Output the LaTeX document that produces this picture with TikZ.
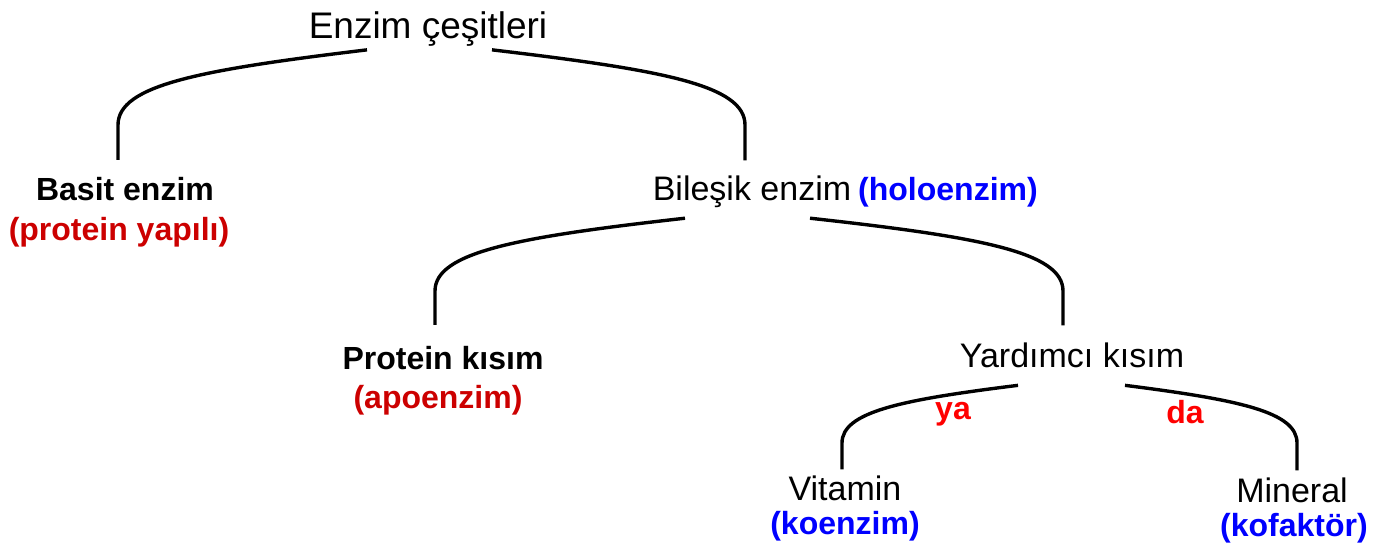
\documentclass[tikz,border=0pt]{standalone}
\usepackage{fontspec}
\setmainfont{Liberation Sans}
\usepackage{xcolor}
\usetikzlibrary{positioning}
\definecolor{apored}{RGB}{204,0,0}
\definecolor{yared}{RGB}{255,0,0}
\definecolor{koblue}{RGB}{0,0,255}

\begin{document}
\begin{tikzpicture}[
    x=1pt, y=-1pt,
    every node/.style={inner sep=0pt, outer sep=0pt},
    title/.style={font=\fontsize{37}{44}\selectfont, anchor=base},
    plain/.style={font=\fontsize{34}{40}\selectfont, anchor=base},
    strong/.style={font=\fontsize{32}{38}\selectfont\bfseries, anchor=base},
    note/.style={font=\fontsize{32}{38}\selectfont\bfseries, text=#1, anchor=base},
    note/.default=apored,
    branch/.style={line width=3.4pt},
]
\useasboundingbox (0,0) rectangle (1379,549);

% --- Levels ---
\node[title] (root) at (428,38) {Enzim çeşitleri};

\node[strong] (basit) at (125,200) {Basit enzim};
\node[note] (basitnote) at (119,240) {(protein yapılı)};
\node[plain] (bilesik) at (752,200) {Bileşik enzim};
\node[note=koblue, base right=7pt of bilesik] (holo) {(holoenzim)};

\node[strong] (protein) at (443,369) {Protein kısım};
\node[note] (apo) at (438,408) {(apoenzim)};
\node[plain] (yardimci) at (1072,367) {Yardımcı kısım};

\node[note=yared] (ya) at (953,419) {ya};
\node[note=yared] (da) at (1185,423) {da};
\node[plain] (vitamin) at (845,500) {Vitamin};
\node[note=koblue] (koenzim) at (845,534) {(koenzim)};
\node[plain] (mineral) at (1292,502) {Mineral};
\node[note=koblue] (kofaktor) at (1294,536) {(kofaktör)};

% --- Branches ---
\draw[branch] ([xshift=-61pt,yshift=-4pt]root.south) .. controls (200,70) and (118,85) .. (118,125) -- ([xshift=-7pt,yshift=17pt]basit.north);
\draw[branch] ([xshift=64pt,yshift=-4pt]root.south) .. controls (662,70) and (745,85) .. (745,125) -- ([xshift=-7pt,yshift=15pt]bilesik.north);
\draw[branch] ([xshift=-67pt,yshift=-11pt]bilesik.south) .. controls (518,237) and (435,252) .. (435,291) -- ([xshift=-8pt,yshift=21pt]protein.north);
\draw[branch] ([xshift=58pt,yshift=-11pt]bilesik.south) .. controls (980,237) and (1063,252) .. (1063,291) -- ([xshift=-9pt,yshift=17pt]yardimci.north);
\draw[branch] ([xshift=-54pt,yshift=-18pt]yardimci.south) .. controls (900,400) and (842,412) .. (842,443) -- ([xshift=-3pt,yshift=6pt]vitamin.north);
\draw[branch] ([xshift=53pt,yshift=-18pt]yardimci.south) .. controls (1240,400) and (1297,412) .. (1297,443) -- ([xshift=5pt,yshift=7pt]mineral.north);

\end{tikzpicture}
\end{document}
